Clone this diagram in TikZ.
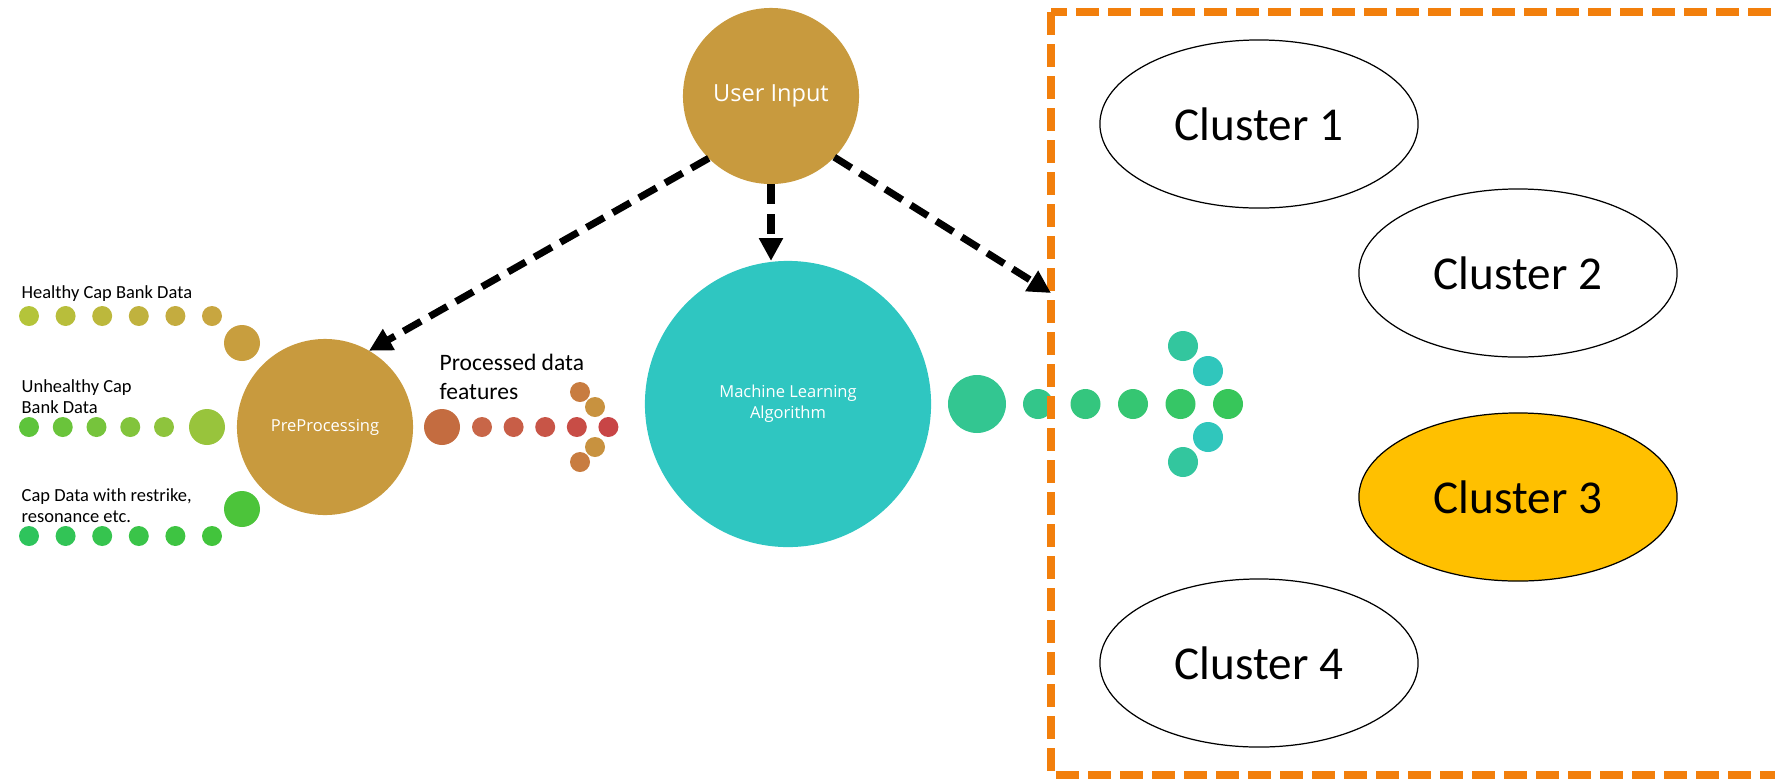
\documentclass[tikz,border=0pt]{standalone}
\usepackage{fontspec}
\setmainfont{Carlito}
\newfontfamily\circlefont{Open Sans}
\usetikzlibrary{arrows.meta,shapes.geometric}

\definecolor{goldfill}{HTML}{C89A3E}
\definecolor{tealfill}{HTML}{2FC6C1}
\definecolor{clusterhi}{HTML}{FFC000}
\definecolor{frameorange}{HTML}{F27F0C}
% dot colours
\definecolor{healthyA}{HTML}{B4C43A}
\definecolor{healthyB}{HTML}{C8A640}
\definecolor{healthyC}{HTML}{C89E3E}
\definecolor{unhealthyA}{HTML}{5EC43B}
\definecolor{unhealthyB}{HTML}{8EC43D}
\definecolor{unhealthyC}{HTML}{98C43C}
\definecolor{restrikeA}{HTML}{2EC45C}
\definecolor{restrikeB}{HTML}{42C43C}
\definecolor{restrikeC}{HTML}{4CC43A}
\definecolor{featureA}{HTML}{C86648}
\definecolor{featureB}{HTML}{C84546}
\definecolor{featureC}{HTML}{C46C40}
\definecolor{featureD}{HTML}{C87C40}
\definecolor{featureE}{HTML}{C8923F}
\definecolor{outputA}{HTML}{33C68A}
\definecolor{outputB}{HTML}{37C65A}
\definecolor{outputC}{HTML}{33C691}
\definecolor{outputD}{HTML}{33C69E}
\definecolor{outputE}{HTML}{30C6BC}

\tikzset{
	bigcircle/.style={circle, fill=#1, draw=none, inner sep=0pt, outer sep=0pt, text=white},
	cluster/.style={ellipse, draw=black, line width=0.35pt, minimum width=3.18cm,
		minimum height=1.68cm, inner sep=0pt, font=\fontsize{13.4}{16}\selectfont},
	feed/.style={line width=2pt, dash pattern=on 5.7pt off 2.85pt,
		-{Triangle[length=6.5pt,width=6.5pt]}},
	datalabel/.style={anchor=base west, inner sep=0pt, align=left,
		font=\fontsize{5.25}{5.7}\selectfont},
	clusterframe/.style={draw=frameorange, line width=2pt, dash pattern=on 6.5pt off 2.6pt}
}

\begin{document}
\begin{tikzpicture}[x=0.01cm, y=-0.01cm]
	\useasboundingbox (0,0) rectangle (1775,778);

	% main steps
	\node[bigcircle=goldfill, minimum size=1.76cm, font=\circlefont\fontsize{6.7}{8}\selectfont]
		(userinput) at (771,96) {User Input};
	\node[bigcircle=goldfill, minimum size=1.76cm, font=\circlefont\fontsize{4.7}{6}\selectfont]
		(preproc) at (325,427) {PreProcessing};
	\node[bigcircle=tealfill, minimum size=2.86cm, align=center,
		font=\circlefont\fontsize{4.7}{6}\selectfont]
		(mlalgo) at (788,404) {Machine Learning\\Algorithm};

	% input data (base = last line)
	\node[datalabel] (healthylbl) at (21,298) {Healthy Cap Bank Data};
	\node[datalabel] (unhealthylbl) at (21,413) {Unhealthy Cap\\Bank Data};
	\node[datalabel] (restrikelbl) at (21,522) {Cap Data with restrike,\\resonance etc.};
	\node[anchor=base west, inner sep=0pt, align=left, font=\fontsize{6.7}{8}\selectfont]
		(featurelbl) at (439,399) {Processed data\\features};

	\foreach \i in {0,...,5} {
		\pgfmathtruncatemacro\p{\i*20}
		\fill[healthyB!\p!healthyA] (29+36.6*\i,316) circle[radius=10];
		\fill[restrikeB!\p!restrikeA] (29+36.6*\i,536) circle[radius=10];
	}
	\foreach \i in {0,...,4} {
		\pgfmathtruncatemacro\p{\i*25}
		\fill[unhealthyB!\p!unhealthyA] (29+33.75*\i,427) circle[radius=10];
		\fill[featureB!\p!featureA] (482+31.6*\i,427) circle[radius=10];
		\fill[outputB!\p!outputA] (1038+47.5*\i,404) circle[radius=15];
	}
	\fill[healthyC] (242,343) circle[radius=18];
	\fill[unhealthyC] (207,427) circle[radius=18];
	\fill[restrikeC] (242,509) circle[radius=18];

	% processed features
	\fill[featureC] (442,427) circle[radius=18];
	\fill[featureD] (580,392) circle[radius=10] (580,462) circle[radius=10];
	\fill[featureE] (595,407) circle[radius=10] (595,447) circle[radius=10];

	% algorithm output
	\fill[outputC] (977,404) circle[radius=29];
	\fill[outputD] (1183,346) circle[radius=15] (1183,462) circle[radius=15];
	\fill[outputE] (1208,371) circle[radius=15] (1208,437) circle[radius=15];

	% clusters
	\draw[clusterframe] (1051,12) rectangle (1800,775);
	\coordinate (boxentry) at (1051,293);
	\node[cluster] (cluster1) at (1259,124) {Cluster 1};
	\node[cluster] (cluster2) at (1518,273) {Cluster 2};
	\node[cluster, fill=clusterhi] (cluster3) at (1518,497) {Cluster 3};
	\node[cluster] (cluster4) at (1259,663) {Cluster 4};

	\draw[feed] (userinput.225) -- (preproc.60);
	\draw[feed] (userinput.south) -- (userinput.south |- mlalgo.north);
	\draw[feed] (userinput.-44) -- (boxentry);
\end{tikzpicture}
\end{document}
